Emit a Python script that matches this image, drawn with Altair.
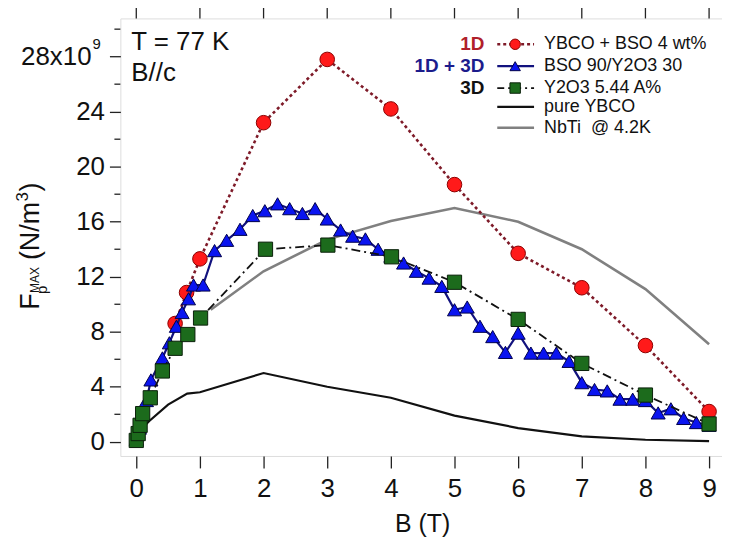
import altair as alt
import pandas as pd

# ---------------- data ----------------
x_ticks = [0, 1, 2, 3, 4, 5, 6, 7, 8, 9]
y_ticks = [0, 4, 8, 12, 16, 20, 24, 28]
y_minor = [2, 6, 10, 14, 18, 22, 26, 30]

red_B = [0.61, 0.79, 1.0, 2.0, 3.0, 4.0, 5.0, 6.0, 7.0, 8.0, 9.0]
red_F = [8.6, 10.85, 13.3, 23.2, 27.8, 24.2, 18.7, 13.7, 11.2, 7.0, 2.2]

blue_B = [0.0, 0.05, 0.1, 0.16, 0.23, 0.41, 0.52, 0.63, 0.72, 0.82, 0.9, 1.05,
          1.23, 1.42, 1.63, 1.83, 2.02, 2.22, 2.41, 2.61, 2.81, 3.0, 3.21, 3.4,
          3.6, 3.8, 4.0, 4.2, 4.4, 4.6, 4.8, 5.0, 5.2, 5.4, 5.6, 5.8, 6.0, 6.2,
          6.4, 6.6, 6.8, 7.0, 7.2, 7.4, 7.6, 7.8, 8.0, 8.2, 8.4, 8.6, 8.8, 9.0]
blue_F = [0.2, 1.0, 2.0, 3.0, 4.5, 6.1, 7.2, 8.4, 9.4, 10.4, 11.4, 11.4,
          13.9, 14.65, 15.45, 16.45, 16.8, 17.3, 16.95, 16.6, 16.95, 16.2, 15.4, 14.95,
          14.75, 14.0, 13.5, 13.0, 12.4, 11.9, 11.3, 9.6, 9.8, 8.4, 7.65, 6.5, 7.9, 6.45,
          6.45, 6.45, 5.85, 4.3, 3.8, 3.7, 3.1, 3.1, 3.0, 2.1, 2.4, 1.7, 1.4, 1.2]

green_B = [0.0, 0.03, 0.06, 0.1, 0.22, 0.41, 0.61, 0.81, 1.01, 2.03, 3.01, 4.01,
           5.0, 6.0, 7.0, 8.0, 9.0]
green_F = [0.1, 0.6, 1.2, 2.05, 3.2, 5.15, 6.8, 7.8, 9.0, 14.0, 14.3, 13.45,
           11.6, 8.9, 5.7, 3.4, 1.3]

pure_B = [0.1, 0.2, 0.5, 0.8, 1.0, 2.0, 3.0, 4.0, 5.0, 6.0, 7.0, 8.0, 9.0]
pure_F = [1.0, 1.5, 2.7, 3.5, 3.6, 5.0, 4.0, 3.2, 1.9, 1.0, 0.4, 0.15, 0.05]

nbti_B = [1.17, 2.0, 3.0, 4.0, 5.0, 6.0, 7.0, 8.0, 9.0]
nbti_F = [9.6, 12.4, 14.7, 16.05, 17.0, 16.0, 14.0, 11.1, 7.1]

series_labels = ["YBCO + BSO 4 wt%", "BSO 90/Y2O3 30", "Y2O3 5.44 A%",
                 "pure YBCO", "NbTi\u00a0 @ 4.2K"]
group_labels = ["1D", "1D + 3D", "3D"]
cond_labels = ["T = 77 K", "B//c"]
x_title = "B (T)"
y_title_parts = ["F", "p", "MAX", "(N/m", "3", ")"]
top_label = "28x10"
top_sup = "9"

# ---------------- frames ----------------
def df(b, f):
    return pd.DataFrame({"B": b, "F": f})

one = pd.DataFrame({"k": [0]})
FONT = "Liberation Sans"

xs = alt.Scale(domain=[-0.25, 9.203], nice=False, zero=False)
ys = alt.Scale(domain=[-1.03, 30.78], nice=False, zero=False)

x_axis = alt.Axis(values=x_ticks, title=None, grid=False, domain=False,
                  tickSize=12, tickWidth=1.3, tickColor="#222",
                  labelFontSize=26, labelPadding=8, labelColor="#111",
                  labelFont=FONT, labelFlush=False, labelOverlap=False)
y_axis = alt.Axis(values=y_ticks, title=None, grid=False, domain=False,
                  tickSize=11, tickWidth=1.3, tickColor="#222",
                  labelFontSize=26, labelPadding=5, labelColor="#111",
                  labelFont=FONT, labelFlush=False, labelOverlap=False,
                  labelExpr="datum.value == 28 ? '' : datum.label")


def X():
    return alt.X("B:Q", scale=xs, axis=x_axis)


def Y():
    return alt.Y("F:Q", scale=ys, axis=y_axis)


def line(b, f, **kw):
    return alt.Chart(df(b, f)).mark_line(**kw).encode(x=X(), y=Y())


def pts(b, f, **kw):
    return alt.Chart(df(b, f)).mark_point(filled=True, opacity=1, **kw).encode(x=X(), y=Y())


def txt(text, x, y, size=19, color="#111", weight="normal", align="left",
        baseline="middle", angle=0, dy=0):
    return alt.Chart(one).mark_text(
        text=text, fontSize=size, color=color, fontWeight=weight, align=align,
        baseline=baseline, angle=angle, dy=dy, font=FONT
    ).encode(x=alt.value(x), y=alt.value(y))


def lrule(y, **kw):
    return alt.Chart(one).mark_rule(**kw).encode(
        x=alt.value(379), x2=alt.value(416), y=alt.value(y))


def lsym(y, **kw):
    return alt.Chart(one).mark_point(filled=True, opacity=1, **kw).encode(
        x=alt.value(397), y=alt.value(y))


# data layers
grey = line(nbti_B, nbti_F, color="#808080", strokeWidth=2.6)
black = line(pure_B, pure_F, color="#111111", strokeWidth=2.2)
red_l = line(red_B, red_F, color="#7E1A28", strokeWidth=2.6, strokeDash=[3, 3])
red_p = pts(red_B, red_F, shape="circle", size=215, fill="#FF1A1A",
            stroke="#8B0000", strokeWidth=1)
blue_l = line(blue_B, blue_F, color="#12127E", strokeWidth=2.2)
blue_p = pts(blue_B, blue_F, shape="triangle-up", size=200, fill="#0A14F0",
             stroke="#00004A", strokeWidth=1)
green_l = line(green_B, green_F, color="#111111", strokeWidth=1.8,
               strokeDash=[9, 4, 2, 4])
green_p = pts(green_B, green_F, shape="square", size=205, fill="#1C6B1C",
              stroke="#0A200A", strokeWidth=1)

# extra ticks
top_ticks = alt.Chart(pd.DataFrame({"B": x_ticks})).mark_rule(
    color="#222", strokeWidth=1.3).encode(x=X(), y=alt.value(-11), y2=alt.value(0))
minor_ticks = alt.Chart(pd.DataFrame({"F": y_minor})).mark_rule(
    color="#222", strokeWidth=1.3).encode(y=Y(), x=alt.value(-6), x2=alt.value(0))

top_lab = alt.Chart(pd.DataFrame({"F": [28]})).mark_text(
    text=top_label, fontSize=26, color="#111", align="right", baseline="middle",
    font=FONT).encode(y=Y(), x=alt.value(-29))
top_sup_t = alt.Chart(pd.DataFrame({"F": [28]})).mark_text(
    text=top_sup, fontSize=15, color="#111", align="left", baseline="middle",
    dy=-13, font=FONT).encode(y=Y(), x=alt.value(-28))

# legend
rows = [26, 48, 70, 89, 110]
legend = [
    txt(group_labels[0], 366, rows[0], color="#B0202A", weight="bold", align="right"),
    txt(group_labels[1], 366, rows[1], color="#1C1C8C", weight="bold", align="right"),
    txt(group_labels[2], 366, rows[2], color="#111", weight="bold", align="right"),
    lrule(rows[0], color="#7E1A28", strokeWidth=2.6, strokeDash=[3, 3]),
    lsym(rows[0], shape="circle", size=110, fill="#FF1A1A", stroke="#8B0000", strokeWidth=1),
    lrule(rows[1], color="#12127E", strokeWidth=2.2),
    lsym(rows[1], shape="triangle-up", size=110, fill="#0A14F0", stroke="#00004A", strokeWidth=1),
    lrule(rows[2], color="#111", strokeWidth=1.8, strokeDash=[7, 4, 2, 4]),
    lsym(rows[2], shape="square", size=110, fill="#1C6B1C", stroke="#0A200A", strokeWidth=1),
    lrule(rows[3], color="#111", strokeWidth=2.2),
    lrule(rows[4], color="#808080", strokeWidth=2.6),
]
for i, lab in enumerate(series_labels):
    legend.append(txt(lab, 426, rows[i], size=18))

# annotations
notes = [
    txt(cond_labels[0], 11, 24, size=26),
    txt(cond_labels[1], 11, 55, size=26),
    txt(x_title, 304, 508, size=25, align="center"),
    # y axis title pieces (rotated)
    txt(y_title_parts[0], -82, 293, size=27, angle=270, baseline="alphabetic"),
    txt(y_title_parts[1], -74, 277, size=15, angle=270, baseline="alphabetic"),
    txt(y_title_parts[2], -82, 276, size=12, angle=270, baseline="alphabetic"),
    txt(y_title_parts[3], -82, 243, size=27, angle=270, baseline="alphabetic"),
    txt(y_title_parts[4], -93, 184, size=17, angle=270, baseline="alphabetic"),
    txt(y_title_parts[5], -82, 174, size=27, angle=270, baseline="alphabetic"),
]

chart = alt.layer(
    grey, black, red_l, red_p, blue_l, blue_p, green_l, green_p,
    top_ticks, minor_ticks, top_lab, top_sup_t, *legend, *notes
).properties(
    width=605, height=440,
    padding={"left": 113, "top": 9, "right": 0, "bottom": 82},
    autosize=alt.AutoSizeParams(type="none"),
).configure_view(
    stroke="#222", strokeWidth=1.5
).configure(background="white")

chart.save("out.html", embed_options={"renderer": "svg", "actions": False})
